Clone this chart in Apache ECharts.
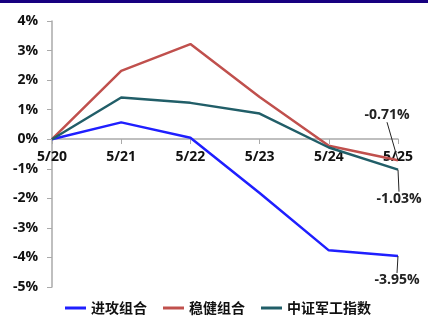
<!DOCTYPE html>
<html><head><meta charset="utf-8">
<script src="https://cdn.jsdelivr.net/npm/echarts@6/dist/echarts.min.js"></script>
<style>html,body{margin:0;padding:0;background:#fff}#c{width:436px;height:322px}</style>
</head><body><div id="c"></div>
<script>
var categories = ['5/20','5/21','5/22','5/23','5/24','5/25'];
var attack = [0, 0.57, 0.05, -1.82, -3.76, -3.95];
var steady = [0, 2.31, 3.22, 1.43, -0.22, -0.71];
var military = [0, 1.41, 1.23, 0.87, -0.28, -1.03];
var seriesNames = ['进攻组合','稳健组合','中证军工指数'];
var yTicks = {min: -5, max: 4, interval: 1};

var FONT = '"Noto Sans CJK SC", "Noto Sans", sans-serif';
var NUMFONT = '"Open Sans", "Noto Sans", sans-serif';
var chart = echarts.init(document.getElementById('c'), null, {renderer:'canvas'});

function lastLabel(data, pos) {
  return data.map(function(v, i){
    if (i !== data.length - 1) return v;
    return {value: v, label: {show: true, position: pos, distance: 2, formatter: function(p){return p.value.toFixed(2)+'%';},
      fontFamily: NUMFONT, fontSize: 14, fontWeight: 'bold', color: '#222'}};
  });
}

function mk(name, data, color, pos, dx, dy) {
  return {
    name: name, type: 'line', data: lastLabel(data, pos), symbol: 'circle', symbolSize: 0.01, showSymbol: true,
    lineStyle: {color: color, width: 2.5}, itemStyle: {color: color},
    labelLine: {show: true, lineStyle: {color: '#222', width: 1}},
    labelLayout: function(p){ if (p.dataIndex === data.length-1) return {dx: dx, dy: dy}; return {}; },
    emphasis: {disabled: true}
  };
}

chart.setOption({
  animation: false,
  graphic: [{type:'rect', left: 0, top: 0, shape:{width: 428, height: 3}, style:{fill:'#170080'}}],
  grid: {left: 52, right: 38, top: 21, bottom: 35},
  legend: {
    bottom: 2, left: 'center', itemWidth: 21, itemHeight: 3, itemGap: 16, icon: 'rect',
    textStyle: {fontFamily: FONT, fontSize: 14, fontWeight: 'bold', color: '#111'},
    data: seriesNames
  },
  xAxis: {
    type: 'category', data: categories, boundaryGap: false, offset: -148,
    axisLine: {onZero: false, lineStyle: {color: '#aaa', width: 1.5}},
    axisTick: {show: true, length: 5, lineStyle: {color: '#aaa'}, alignWithLabel: true},
    axisLabel: {fontFamily: NUMFONT, fontSize: 14, fontWeight: 'bold', color: '#111', margin: 11, interval: 0},
    splitLine: {show: false}
  },
  yAxis: {
    type: 'value', min: yTicks.min, max: yTicks.max, interval: yTicks.interval,
    axisLine: {show: true, lineStyle: {color: '#aaa', width: 1.5}},
    axisTick: {show: true, length: 5, lineStyle: {color: '#aaa'}},
    axisLabel: {formatter: '{value}%', fontFamily: NUMFONT, fontSize: 14, fontWeight: 'bold', color: '#111', margin: 14},
    splitLine: {show: false}
  },
  series: [
    mk(seriesNames[0], attack, '#1f1fff', 'bottom', -1, 15),
    mk(seriesNames[1], steady, '#c0504d', 'top', -11, -36),
    mk(seriesNames[2], military, '#215e68', 'bottom', 1, 20)
  ]
});
</script></body></html>
